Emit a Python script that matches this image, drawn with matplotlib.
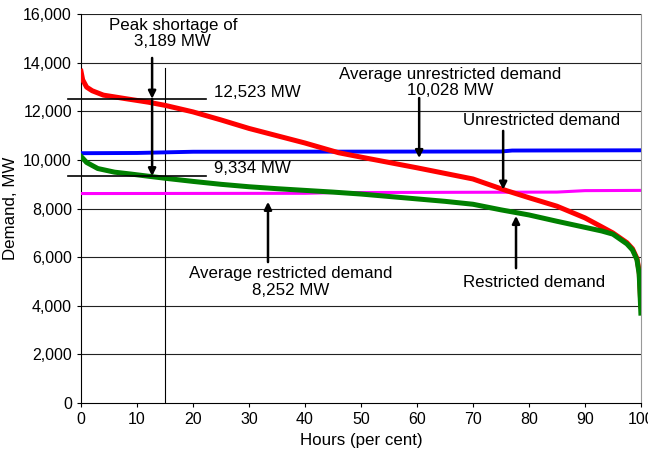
import numpy as np
import matplotlib.pyplot as plt

plt.rcParams['font.family'] = ['Liberation Sans', 'DejaVu Sans']

# load duration curves (hours in per cent, demand in MW)
red_x = [0, 0.3, 1, 2, 4, 8, 12, 15, 20, 25, 30, 35, 40, 46, 50, 55, 60, 65, 70, 76,
         80, 85, 90, 93, 95, 97.5, 98.5, 99.3, 99.7, 100]
red_y = [13650, 13300, 13000, 12850, 12670, 12523, 12380, 12250, 11980, 11650, 11300,
         11000, 10700, 10300, 10120, 9900, 9680, 9450, 9220, 8740, 8450, 8100, 7620,
         7250, 7000, 6600, 6350, 5950, 5400, 4000]

green_x = [0, 1, 3, 6, 9, 12, 15, 20, 25, 30, 35, 40, 45, 50, 55, 60, 65, 70, 75, 80,
           85, 90, 93, 95, 97.5, 98.5, 99.3, 99.7, 100]
green_y = [10150, 9900, 9650, 9500, 9420, 9334, 9250, 9120, 9000, 8900, 8820, 8750,
           8680, 8600, 8500, 8400, 8300, 8180, 7950, 7740, 7480, 7230, 7080, 6950,
           6550, 6300, 5900, 5300, 3700]

blue_x = [0, 10, 20, 75, 77, 100]
blue_y = [10280, 10290, 10340, 10350, 10390, 10400]

mag_x = [0, 40, 45, 85, 90, 100]
mag_y = [8620, 8630, 8660, 8680, 8740, 8750]

peak_unres = 12523
peak_res = 9334

fig = plt.figure(figsize=(6.48, 4.58), dpi=100)
ax = fig.add_axes([0.125, 0.12, 0.864, 0.849])

for y in range(2000, 16001, 2000):
    ax.axhline(y, color='#222222', lw=0.8, zorder=1)

ax.plot(mag_x, mag_y, color='#ff00ff', lw=2.2, zorder=3)
ax.plot(blue_x, blue_y, color='#0000ff', lw=2.8, zorder=3)
ax.plot(red_x, red_y, color='#ff0000', lw=3.6, zorder=4)
ax.plot(green_x, green_y, color='#008000', lw=3.6, zorder=5)

# peak markers
ax.plot([15, 15], [0, 13800], color='black', lw=0.8, zorder=2)
ax.plot([-2.3, 22.3], [peak_unres, peak_unres], color='black', lw=1.2, clip_on=False, zorder=6)
ax.plot([-2.3, 22.3], [peak_res, peak_res], color='black', lw=1.2, clip_on=False, zorder=6)

arr = dict(arrowstyle='-|>', color='black', lw=1.8, mutation_scale=11, shrinkA=0, shrinkB=0)
ax.annotate('', xy=(12.7, peak_unres), xytext=(12.7, 14200), arrowprops=arr, zorder=7)
ax.annotate('', xy=(12.7, peak_res), xytext=(12.7, peak_unres), arrowprops=arr, zorder=7)
ax.annotate('', xy=(60.4, 10080), xytext=(60.4, 12550), arrowprops=arr, zorder=7)
ax.annotate('', xy=(75.4, 8780), xytext=(75.4, 11200), arrowprops=arr, zorder=7)
ax.annotate('', xy=(77.7, 7700), xytext=(77.7, 5550), arrowprops=arr, zorder=7)
ax.annotate('', xy=(33.4, 8280), xytext=(33.4, 5800), arrowprops=arr, zorder=7)

fs = 12.2
ax.text(16.4, 15220, 'Peak shortage of\n3,189 MW', ha='center', va='center', fontsize=fs,
        linespacing=1.1)
ax.text(23.7, 12790, '12,523 MW', ha='left', va='center', fontsize=fs)
ax.text(23.7, 9670, '9,334 MW', ha='left', va='center', fontsize=fs)
ax.text(66, 13200, 'Average unrestricted demand\n10,028 MW', ha='center', va='center',
        fontsize=fs, linespacing=1.1)
ax.text(82.3, 11640, 'Unrestricted demand', ha='center', va='center', fontsize=fs)
ax.text(81, 4980, 'Restricted demand', ha='center', va='center', fontsize=fs)
ax.text(37.5, 4980, 'Average restricted demand\n8,252 MW', ha='center', va='center',
        fontsize=fs, linespacing=1.1)

ax.set_xlim(0, 100)
ax.set_ylim(0, 16000)
ax.set_xticks(np.arange(0, 101, 10))
ax.set_yticks(np.arange(0, 16001, 2000))
ax.set_yticklabels([f'{v:,}' for v in range(0, 16001, 2000)])
ax.tick_params(labelsize=11.5, length=3, width=0.8)
ax.set_xlabel('Hours (per cent)', fontsize=fs)
ax.set_ylabel('Demand, MW', fontsize=fs)

for s in ['top', 'right']:
    ax.spines[s].set_color('#999999')
ax.spines['top'].set_visible(False)

fig.savefig('out.png', dpi=100)
